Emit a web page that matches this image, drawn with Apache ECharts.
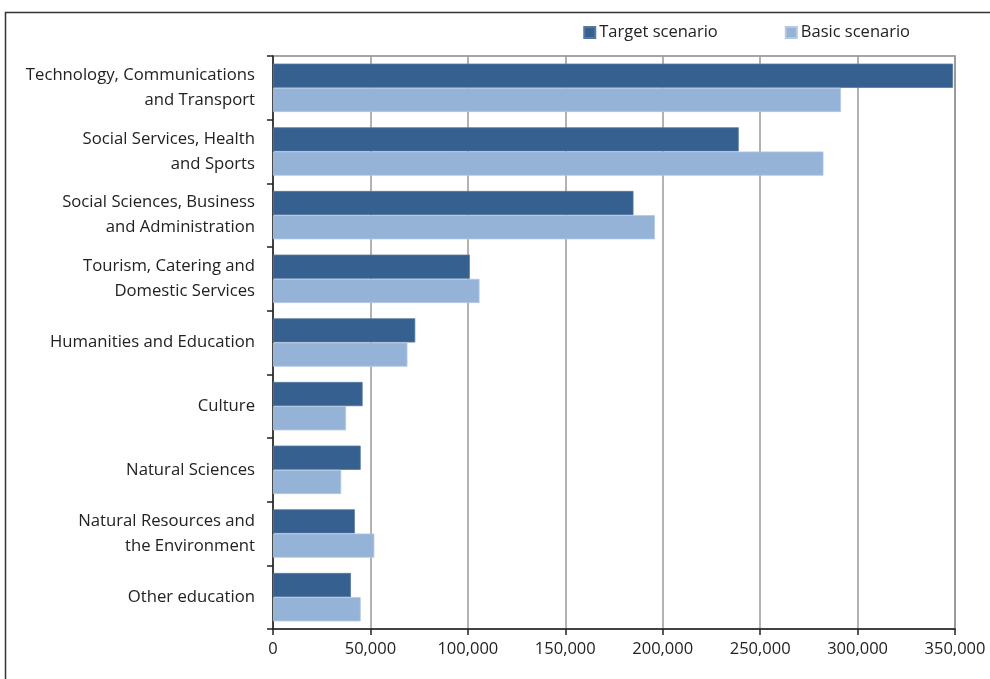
<!DOCTYPE html>
<html>
<head>
<meta charset="utf-8">
<script src="https://cdn.jsdelivr.net/npm/echarts@6/dist/echarts.min.js"></script>
<style>
  html, body { margin: 0; padding: 0; background: #fff; }
  #chart { width: 990px; height: 679px; }
</style>
</head>
<body>
<div id="chart"></div>
<script>
// Fields of education, top to bottom
const categories = [
  'Technology, Communications\nand Transport',
  'Social Services, Health\nand Sports',
  'Social Sciences, Business\nand Administration',
  'Tourism, Catering and\nDomestic Services',
  'Humanities and Education',
  'Culture',
  'Natural Sciences',
  'Natural Resources and\nthe Environment',
  'Other education'
];
const targetScenario = [349000, 239000, 185000, 101000, 73000, 46000, 45000, 42000, 40000];
const basicScenario  = [291500, 282500, 196000, 106000, 69000, 37500, 35000, 52000, 45000];
const xTicks = { min: 0, max: 350000, interval: 50000 };

const chart = echarts.init(document.getElementById('chart'));
const font = "'Open Sans', 'Liberation Sans', sans-serif";

chart.setOption({
  animation: false,
  backgroundColor: '#fff',
  textStyle: { fontFamily: font },
  graphic: [{
    type: 'rect',
    shape: { x: 5.5, y: 12.5, width: 1000, height: 700 },
    style: { fill: 'none', stroke: '#333', lineWidth: 1.5 },
    silent: true
  }],
  legend: {
    top: 19,
    right: 75,
    itemWidth: 11,
    itemHeight: 11,
    itemGap: 67,
    icon: 'rect',
    textStyle: { fontFamily: font, fontSize: 16.5, color: '#222', padding: [0, 0, 0, -1] },
    data: ['Target scenario', 'Basic scenario']
  },
  grid: {
    left: 273, right: 35, top: 56, bottom: 50,
    show: true, borderColor: '#888', borderWidth: 1.5
  },
  xAxis: {
    type: 'value',
    min: xTicks.min, max: xTicks.max, interval: xTicks.interval,
    axisLine: { show: true, lineStyle: { color: '#222', width: 1.5 } },
    axisTick: { show: true, length: 6, lineStyle: { color: '#222', width: 1.5 } },
    splitLine: { show: true, lineStyle: { color: '#999', width: 1.5 } },
    axisLabel: {
      margin: 12, fontSize: 16.5, color: '#222', fontFamily: font,
      formatter: v => v.toLocaleString('en-US')
    }
  },
  yAxis: {
    type: 'category',
    inverse: true,
    data: categories,
    axisLine: { show: true, lineStyle: { color: '#222', width: 1.5 } },
    axisTick: { show: true, length: 6, lineStyle: { color: '#222', width: 1.5 } },
    axisLabel: {
      margin: 18, fontSize: 16.7, color: '#222', fontFamily: font,
      lineHeight: 25, align: 'right'
    }
  },
  series: [
    {
      name: 'Target scenario',
      type: 'bar',
      data: targetScenario,
      barGap: '0%',
      barCategoryGap: '24%',
      itemStyle: { color: '#35608f', borderColor: '#5678a0', borderWidth: 0.8 }
    },
    {
      name: 'Basic scenario',
      type: 'bar',
      data: basicScenario,
      barGap: '0%',
      barCategoryGap: '24%',
      itemStyle: { color: '#95b3d7', borderColor: '#b3c8e2', borderWidth: 0.8 }
    }
  ]
});
</script>
</body>
</html>
